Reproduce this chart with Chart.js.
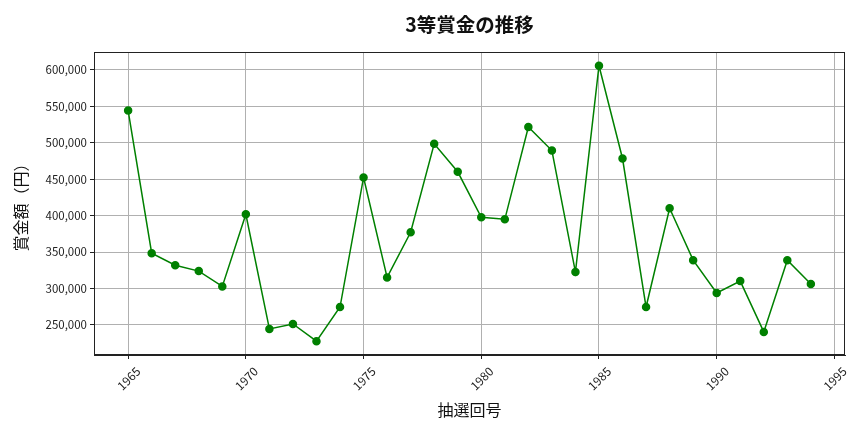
<!DOCTYPE html>
<html>
<head>
<meta charset="utf-8">
<script src="https://cdn.jsdelivr.net/npm/chart.js@4"></script>
<style>
  html, body { margin: 0; padding: 0; background: #fff; }
  #wrap { width: 864px; height: 432px; }
</style>
</head>
<body>
<div id="wrap"><canvas id="chart" width="864" height="432"></canvas></div>
<script>
/* 3等賞金の推移 — 抽選回号ごとの賞金額 */
const years = [1965, 1966, 1967, 1968, 1969, 1970, 1971, 1972, 1973, 1974,
               1975, 1976, 1977, 1978, 1979, 1980, 1981, 1982, 1983, 1984,
               1985, 1986, 1987, 1988, 1989, 1990, 1991, 1992, 1993, 1994];
const prizes = [544000, 348400, 332000, 323900, 302900, 401800, 244600, 251400, 227700, 274600,
                452300, 315200, 377200, 498400, 460100, 397700, 394900, 521600, 489300, 322500,
                605500, 478300, 274600, 410000, 338900, 293800, 310200, 240500, 338900, 306100];
const xTicks = [1965, 1970, 1975, 1980, 1985, 1990, 1995];
const yTicks = [250000, 300000, 350000, 400000, 450000, 500000, 550000, 600000];

const JP = "'Noto Sans CJK JP', 'Noto Sans', sans-serif";

// 枠線（上・右も含めて四辺）
const frame = {
  id: 'frame',
  afterDraw(chart) {
    const { ctx, chartArea: a } = chart;
    ctx.save();
    ctx.strokeStyle = '#222';
    ctx.lineWidth = 1;
    ctx.strokeRect(a.left + 0.5, a.top + 0.5, a.right - a.left - 1, a.bottom - a.top - 1);
    ctx.restore();
  }
};

const lo = Math.min(...prizes), hi = Math.max(...prizes);
const padY = (hi - lo) * 0.05;
const padX = (years[years.length - 1] - years[0]) * 0.05;

new Chart(document.getElementById('chart'), {
  type: 'line',
  data: {
    datasets: [{
      data: years.map((y, i) => ({ x: y, y: prizes[i] })),
      borderColor: '#008000', backgroundColor: '#008000',
      borderWidth: 1.5, pointRadius: 3.5, pointHoverRadius: 3.5,
      tension: 0
    }]
  },
  options: {
    responsive: false, animation: false,
    layout: { padding: { left: 0, right: 19, top: 0, bottom: 0 } },
    plugins: {
      legend: { display: false },
      tooltip: { enabled: false },
      title: {
        display: true, text: '3等賞金の推移', color: '#111', fullSize: false,
        font: { family: JP, size: 19.5, weight: 'bold' },
        padding: { top: 13, bottom: 15.6 }
      }
    },
    scales: {
      x: {
        type: 'linear',
        min: years[0] - padX, max: years[years.length - 1] + padX,
        afterBuildTicks: s => { s.ticks = xTicks.map(v => ({ value: v })); },
        afterFit: s => { s.height = 77; },
        grid: { color: '#b0b0b0', tickColor: '#222', tickLength: 4 },
        border: { color: '#222' },
        ticks: {
          minRotation: 45, maxRotation: 45, padding: 5, labelOffset: 10,
          color: '#222', font: { family: JP, size: 12 },
          callback: v => String(v)
        },
        title: {
          display: true, text: '抽選回号', color: '#111',
          font: { family: JP, size: 16 }, padding: { top: 0, bottom: 12.4 }
        }
      },
      y: {
        min: lo - padY, max: hi + padY,
        afterBuildTicks: s => { s.ticks = yTicks.map(v => ({ value: v })); },
        afterFit: s => { s.width = 94; },
        grid: { color: '#b0b0b0', tickColor: '#222', tickLength: 4 },
        border: { color: '#222' },
        ticks: {
          padding: 3, color: '#222', font: { family: JP, size: 11.5 },
          callback: v => v.toLocaleString('en-US')
        },
        title: {
          display: true, text: '賞金額（円）', color: '#111',
          font: { family: JP, size: 16 }, padding: { top: 11, bottom: 0 }
        }
      }
    }
  },
  plugins: [frame]
});
</script>
</body>
</html>
